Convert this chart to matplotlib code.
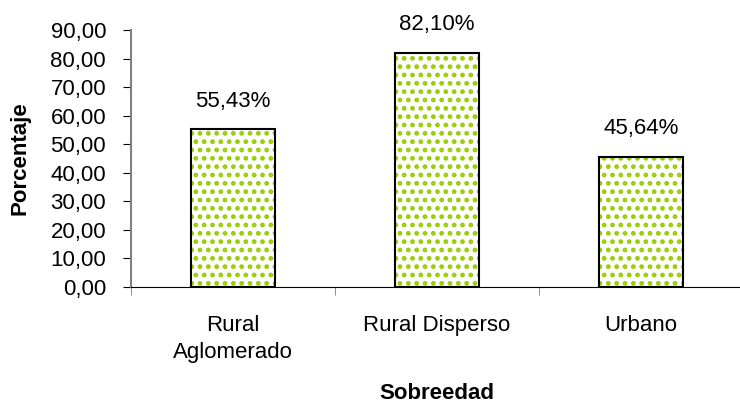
import matplotlib.pyplot as plt
import numpy as np

plt.rcParams['font.family'] = ['Liberation Sans', 'DejaVu Sans']
plt.rcParams['hatch.linewidth'] = 2.2

categorias = ['Rural\nAglomerado', 'Rural Disperso', 'Urbano']
valores = [55.43, 82.10, 45.64]
etiquetas = ['55,43%', '82,10%', '45,64%']
yticks = np.arange(0, 91, 10)

fig = plt.figure(figsize=(7.4, 4.08), dpi=100)
ax = fig.add_axes([131/740, 1 - 287/408, 612/740, 257/408])

x = np.arange(len(categorias))
# dotted fill (hatch takes edge colour) then black outline on top
ax.bar(x, valores, width=0.41, color='white', edgecolor='#99cc00', hatch='..', linewidth=0, zorder=2)
ax.bar(x, valores, width=0.41, fill=False, edgecolor='black', linewidth=1.5, zorder=3)

for xi, v, t in zip(x, valores, etiquetas):
    ax.text(xi, v + 9.7, t, ha='center', va='center', fontsize=16)

ax.set_xlim(-0.5, 2.5)
ax.set_ylim(0, 90)
ax.set_yticks(yticks)
ax.set_yticklabels(['%d,00' % v for v in yticks], fontsize=16)
ax.set_xticks(x)
ax.set_xticklabels(categorias, fontsize=16, linespacing=1.4)
ax.set_xticks([-0.5, 0.5, 1.5, 2.5], minor=True)
ax.tick_params(axis='x', which='major', length=0, pad=20)
ax.tick_params(axis='x', which='minor', length=6, color='#808080', direction='out')
ax.tick_params(axis='y', length=6, color='black', direction='out', pad=12)

ax.spines['top'].set_visible(False)
ax.spines['right'].set_visible(False)
ax.spines['left'].set_color('#808080')
ax.spines['left'].set_linewidth(1.5)
ax.spines['bottom'].set_color('black')

ax.set_ylabel('Porcentaje', fontsize=16, fontweight='bold', labelpad=14)
ax.set_xlabel('Sobreedad', fontsize=16, fontweight='bold', labelpad=14)

fig.savefig('out.png', dpi=100)
